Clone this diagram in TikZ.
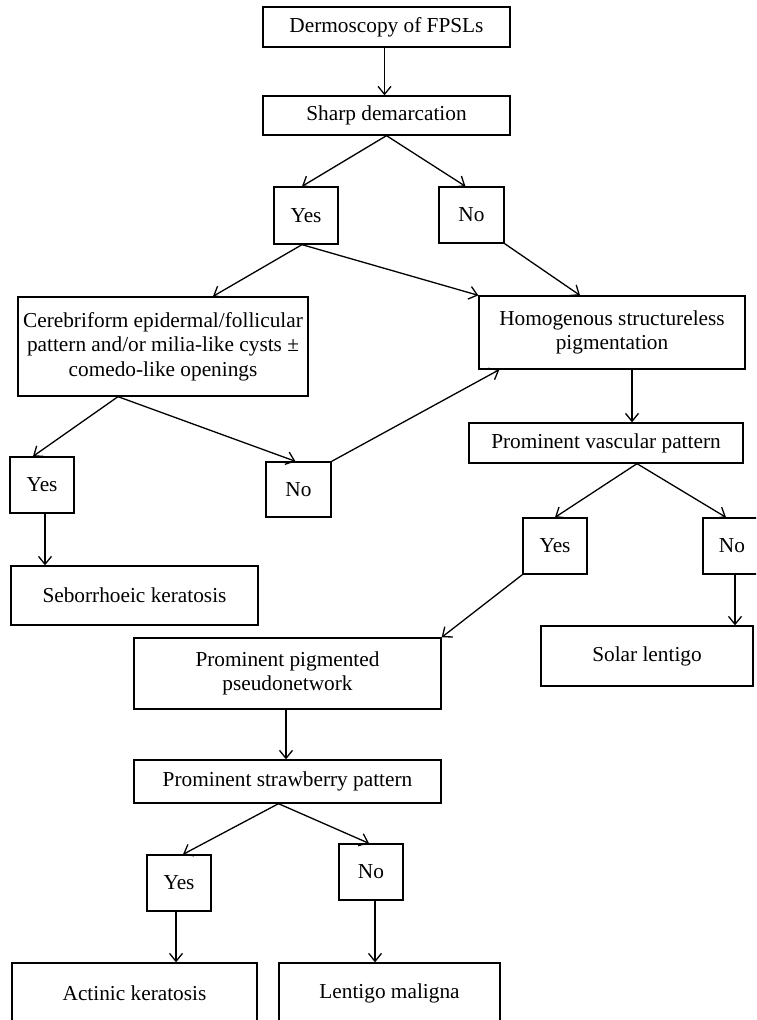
\documentclass[tikz,border=0pt]{standalone}
\usepackage{fontspec}
\setmainfont{Liberation Serif}
\usetikzlibrary{arrows.meta,calc}
\begin{document}
\begin{tikzpicture}[x=1pt,y=-1pt,
  box/.style={draw,line width=1.3pt,inner sep=0pt,align=center,
    font=\fontsize{21.3}{24.5}\selectfont},
  conn/.style={line width=1.3pt,-{Straight Barb[length=8pt,width=13pt,line width=1.3pt]}},
  plain/.style={line width=1.3pt}]
\useasboundingbox (0,0) rectangle (756,1020);
\fill[white] (0,0) rectangle (756,1020);
\clip (0,0) rectangle (756,1020);
\node[box,minimum width=247,minimum height=40] (dfp) at (386.5,27) {Dermoscopy of FPSLs};
\node[box,minimum width=247,minimum height=39] (sharp) at (386.5,115.5) {Sharp demarcation};
\node[box,minimum width=64,minimum height=57] (yes1) at (306,215.5) {Yes};
\node[box,minimum width=65,minimum height=56] (no1) at (471.5,215) {No};
\node[box,minimum width=290,minimum height=99] (cer) at (163,346.5) {Cerebriform epidermal/follicular\\pattern and/or milia-like cysts ±\\comedo-like openings};
\node[box,minimum width=266,minimum height=73] (hom) at (612,332.5) {Homogenous structureless\\pigmentation};
\node[box,minimum width=64,minimum height=56] (yes2) at (42,485) {Yes};
\node[box,minimum width=65,minimum height=55] (no2) at (298.5,489.5) {No};
\node[box,minimum width=247,minimum height=59] (seb) at (134.5,595.5) {Seborrhoeic keratosis};
\node[box,minimum width=274,minimum height=40] (vas) at (606,443) {Prominent vascular pattern};
\node[box,minimum width=64,minimum height=56] (yes3) at (555,546) {Yes};
\node[box,minimum width=58,minimum height=56] (no3) at (732,546) {No};
\node[box,minimum width=212,minimum height=60] (solar) at (647,656) {Solar lentigo};
\node[box,minimum width=307,minimum height=71] (pig) at (287.5,673.5) {Prominent pigmented\\pseudonetwork};
\node[box,minimum width=307,minimum height=43] (straw) at (287.5,781.5) {Prominent strawberry pattern};
\node[box,minimum width=64,minimum height=56] (yes4) at (179,883) {Yes};
\node[box,minimum width=64,minimum height=56] (no4) at (371,872) {No};
\node[box,minimum width=245,minimum height=60] (act) at (134.5,993) {Actinic keratosis};
\node[box,minimum width=221,minimum height=60] (len) at (389.5,993) {Lentigo maligna};

\draw[conn] ([xshift=-2pt]dfp.south) -- ([xshift=-2pt]sharp.north);
\draw[conn] (sharp.south) -- ([xshift=-4pt]yes1.north);
\draw[conn] (sharp.south) -- ([xshift=-6pt]no1.north);
\draw[conn] ([xshift=-4pt]yes1.south) -- ([xshift=50pt]cer.north);
\draw[conn] ([xshift=-4pt]yes1.south) -- (hom.north west);
\draw[conn] (no1.south east) -- ([xshift=-32pt]hom.north);
\draw[conn] ([xshift=-45pt]cer.south) -- ([xshift=-9pt]yes2.north);
\draw[conn] ([xshift=-45pt]cer.south) -- ([xshift=-3pt]no2.north);
\draw[conn] (no2.north east) -- ([xshift=21pt]hom.south west);
\draw[conn] ([xshift=3pt]yes2.south) -- ([xshift=3pt]yes2.south |- seb.north);
\draw[conn] ([xshift=20pt]hom.south) -- ([xshift=20pt]hom.south |- vas.north);
\draw[conn] ([xshift=31pt]vas.south) -- (yes3.north);
\draw[conn] ([xshift=31pt]vas.south) -- ([xshift=-6pt]no3.north);
\draw[conn] ([xshift=3pt]no3.south) -- ([xshift=3pt]no3.south |- solar.north);
\draw[conn] (yes3.south west) -- (pig.north east);
\draw[conn] ([xshift=-1.5pt]pig.south) -- ([xshift=-1.5pt]straw.north);
\draw[conn] ([xshift=-9pt]straw.south) -- ([xshift=4pt]yes4.north);
\draw[conn] ([xshift=-9pt]straw.south) -- ([xshift=-2pt]no4.north);
\draw[conn] ([xshift=-3pt]yes4.south) -- ([xshift=-3pt]yes4.south |- act.north);
\draw[conn] ([xshift=4pt]no4.south) -- ([xshift=4pt]no4.south |- len.north);
\end{tikzpicture}
\end{document}
